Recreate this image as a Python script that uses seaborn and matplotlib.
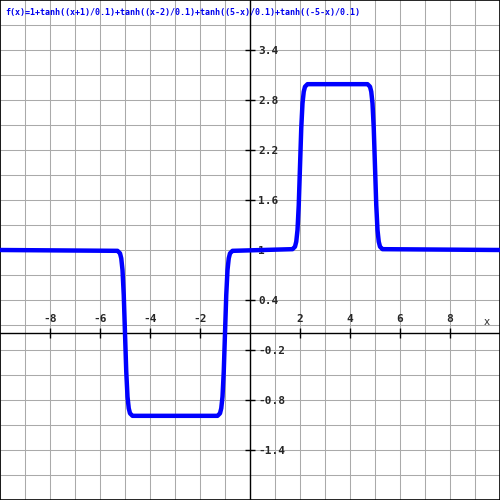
import numpy as np
import matplotlib
matplotlib.use("Agg")
import matplotlib.pyplot as plt
import seaborn as sns

# Curve points (plateaus plus the four steep steps)
curve_x = [-10, -5.3, -5.2, -5.15, -5.1, -5.05, -5.0, -4.95, -4.9, -4.85, -4.8, -4.7,
           -1.3, -1.2, -1.15, -1.1, -1.05, -1.0, -0.95, -0.9, -0.85, -0.8, -0.7,
           1.7, 1.8, 1.85, 1.9, 1.95, 2.0, 2.05, 2.1, 2.15, 2.2, 2.3,
           4.7, 4.8, 4.85, 4.9, 4.95, 5.0, 5.05, 5.1, 5.15, 5.2, 5.3, 10]
curve_y = [1, 0.99, 0.96, 0.9, 0.76, 0.46, 0, -0.46, -0.76, -0.9, -0.96, -0.99,
           -0.99, -0.96, -0.9, -0.76, -0.46, 0, 0.46, 0.76, 0.9, 0.96, 0.99,
           1.01, 1.04, 1.1, 1.24, 1.54, 2.0, 2.46, 2.76, 2.9, 2.96, 2.99,
           2.99, 2.96, 2.9, 2.76, 2.46, 2.0, 1.54, 1.24, 1.1, 1.04, 1.01, 1]

x_grid = list(range(-10, 11))
y_grid = [3.7, 3.4, 3.1, 2.8, 2.5, 2.2, 1.9, 1.6, 1.3, 1.0, 0.7, 0.4, 0.1,
          -0.2, -0.5, -0.8, -1.1, -1.4, -1.7]
x_labels = [-8, -6, -4, -2, 2, 4, 6, 8]
y_labels = [3.4, 2.8, 2.2, 1.6, 1, 0.4, -0.2, -0.8, -1.4]
title = "f(x)=1+tanh((x+1)/0.1)+tanh((x-2)/0.1)+tanh((5-x)/0.1)+tanh((-5-x)/0.1)"

sns.set_style("white")
plt.rcParams['font.family'] = ['DejaVu Sans Mono', 'DejaVu Sans']

fig = plt.figure(figsize=(5, 5), dpi=100)
ax = fig.add_axes([0, 0, 1, 1])
ax.set_xlim(-10, 10)
ax.set_ylim(-2, 4)

# grid
ax.set_xticks(x_grid)
ax.set_yticks(y_grid)
ax.tick_params(length=0, labelbottom=False, labelleft=False)
ax.grid(True, color="#aaaaaa", linewidth=0.75)
for s in ax.spines.values():
    s.set_color("black")
    s.set_linewidth(1.2)

# axes through origin
ax.axhline(0, color="black", linewidth=1.0, zorder=2)
ax.axvline(0, color="black", linewidth=1.0, zorder=2)

# tick marks
ax.plot(x_labels, [0] * len(x_labels), linestyle="none", marker="|",
        markersize=7.5, markeredgewidth=1.0, color="black", zorder=2)
ax.plot([0] * len(y_labels), y_labels, linestyle="none", marker="_",
        markersize=7.5, markeredgewidth=1.0, color="black", zorder=2)

# tick labels
for v in x_labels:
    ax.annotate(f"{v:g}", (v, 0), xytext=(0, 9), textcoords="offset pixels",
                ha="center", va="bottom", fontsize=8, fontweight="bold")
for v in y_labels:
    ax.annotate(f"{v:g}", (0, v), xytext=(8, -1), textcoords="offset pixels",
                ha="left", va="center", fontsize=8, fontweight="bold")
ax.annotate("x", (10, 0), xytext=(-13, 11), textcoords="offset pixels",
            ha="center", va="center", fontsize=7.5, color="#333333",
            family="DejaVu Sans")

# the function curve
sns.lineplot(x=curve_x, y=curve_y, ax=ax, color="#0000ff", linewidth=3.2,
             sort=False, zorder=3)

fig.text(0.01, 0.976, title, color="#0000ee", fontsize=6.0, fontweight="bold",
         ha="left", va="center")

fig.savefig("out.png", dpi=100)
